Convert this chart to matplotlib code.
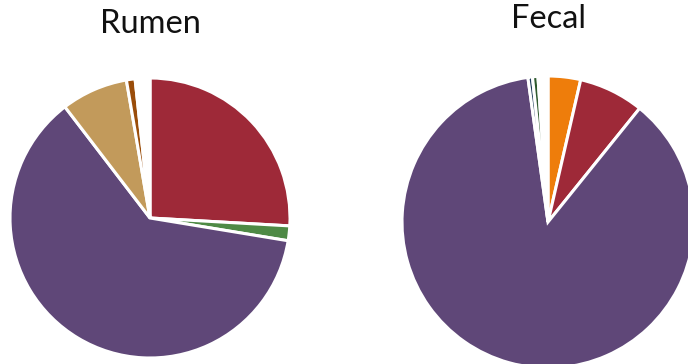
import matplotlib
matplotlib.use("Agg")
import matplotlib.pyplot as plt

# share of reads per group, clockwise from 12 o'clock
rumen_values = [25.9, 1.7, 62.0, 7.7, 1.0, 1.7]
rumen_colors = ["#9E2938", "#4E8A45", "#5F4778", "#C29A5B", "#9A4D0A", "#FFFFFF"]

fecal_values = [3.6, 7.2, 87.0, 0.5, 0.6, 1.1]
fecal_colors = ["#EE7D0B", "#9E2938", "#5F4778", "#1F3B5A", "#2F5A2F", "#FFFFFF"]

titles = ["Rumen", "Fecal"]

W, H = 688, 364
fig = plt.figure(figsize=(W / 100, H / 100), dpi=100)
ax = fig.add_axes([0, 0, 1, 1])

wedge_style = dict(edgecolor="white", linewidth=2.2)
ax.pie(rumen_values, colors=rumen_colors, startangle=90, counterclock=False,
       center=(150, H - 218), radius=140, wedgeprops=wedge_style)
ax.pie(fecal_values, colors=fecal_colors, startangle=90, counterclock=False,
       center=(548, H - 222), radius=146, wedgeprops=wedge_style)

ax.set_xlim(0, W)
ax.set_ylim(0, H)
ax.set_aspect("equal")
ax.axis("off")

ax.text(150, H - 33, titles[0], ha="center", va="baseline",
        fontsize=23.5, family="Lato", color="#111111")
ax.text(549, H - 28, titles[1], ha="center", va="baseline",
        fontsize=23.5, family="Lato", color="#111111")

fig.savefig("out.png", dpi=100, facecolor="white")
